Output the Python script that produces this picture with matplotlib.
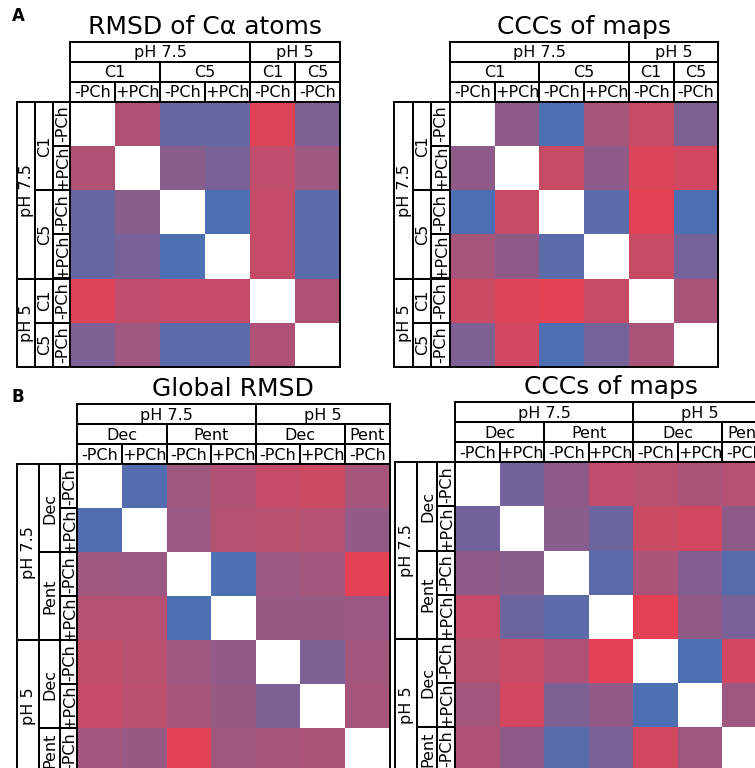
import numpy as np
import matplotlib.pyplot as plt
from matplotlib.colors import LinearSegmentedColormap
from matplotlib.patches import Rectangle

nan = np.nan

# condition labels (pH, construct, PCh state)
conds_a = [("pH 7.5", "C1", "-PCh"), ("pH 7.5", "C1", "+PCh"),
           ("pH 7.5", "C5", "-PCh"), ("pH 7.5", "C5", "+PCh"),
           ("pH 5", "C1", "-PCh"), ("pH 5", "C5", "-PCh")]
conds_b = [("pH 7.5", "Dec", "-PCh"), ("pH 7.5", "Dec", "+PCh"),
           ("pH 7.5", "Pent", "-PCh"), ("pH 7.5", "Pent", "+PCh"),
           ("pH 5", "Dec", "-PCh"), ("pH 5", "Dec", "+PCh"),
           ("pH 5", "Pent", "-PCh")]

# relative values (0 = blue, 1 = red)
rmsd_ca = np.array([
    [nan, .66, .20, .20, .95, .35],
    [.66, nan, .42, .32, .75, .55],
    [.20, .42, nan, .05, .78, .15],
    [.20, .32, .05, nan, .78, .15],
    [.95, .75, .78, .78, nan, .65],
    [.35, .55, .15, .15, .65, nan]])

ccc_a = np.array([
    [nan, .45, .05, .60, .80, .35],
    [.45, nan, .80, .45, .92, .85],
    [.05, .80, nan, .15, .97, .05],
    [.60, .45, .15, nan, .80, .30],
    [.82, .92, .96, .80, nan, .62],
    [.35, .85, .05, .30, .62, nan]])

rmsd_global = np.array([
    [nan, .10, .55, .66, .78, .82, .60],
    [.08, nan, .52, .68, .70, .68, .48],
    [.55, .52, nan, .05, .52, .58, .97],
    [.68, .68, .05, nan, .50, .50, .52],
    [.76, .70, .55, .48, nan, .35, .58],
    [.78, .72, .60, .50, .35, nan, .60],
    [.58, .50, .97, .55, .60, .62, nan]])

ccc_b = np.array([
    [nan, .28, .45, .75, .70, .62, .68],
    [.28, nan, .42, .25, .82, .86, .45],
    [.45, .42, nan, .15, .62, .38, .12],
    [.78, .25, .15, nan, .97, .48, .32],
    [.70, .80, .65, .97, nan, .05, .85],
    [.58, .86, .35, .48, .05, nan, .55],
    [.65, .45, .12, .32, .85, .55, nan]])

cmap = LinearSegmentedColormap.from_list("blue_red", ["#4472b8", "#e84050"])
cmap.set_bad("white")

LW = 1.4
FS = 11.5


def spans(keys):
    """Group consecutive identical keys -> [key, start, stop]"""
    out = []
    for i, k in enumerate(keys):
        if out and out[-1][0] == k:
            out[-1][2] = i + 1
        else:
            out.append([k, i, i + 1])
    return out


def draw_panel(ax, data, conds, title, x0, y0, cw, ch, lab_w, head_h=20):
    n = len(conds)
    xs = x0 + np.arange(n + 1) * cw
    ys = y0 + np.arange(n + 1) * ch
    ax.pcolormesh(xs, ys, np.ma.masked_invalid(data), cmap=cmap,
                  vmin=0, vmax=1)
    ax.add_patch(Rectangle((x0, y0), n * cw, n * ch, fill=False,
                           ec="k", lw=LW))

    for level in range(3):
        keys = [c[:level + 1] for c in conds]
        # column headers
        top = y0 - (3 - level) * head_h
        for key, a, b in spans(keys):
            ax.add_patch(Rectangle((xs[a], top), xs[b] - xs[a], head_h,
                                   fill=False, ec="k", lw=LW))
            ax.text((xs[a] + xs[b]) / 2, top + head_h / 2 + 1, key[-1],
                    ha="center", va="center", fontsize=FS)
        # row labels
        left = x0 - sum(lab_w[level:])
        w = lab_w[level]
        for key, a, b in spans(keys):
            ax.add_patch(Rectangle((left, ys[a]), w, ys[b] - ys[a],
                                   fill=False, ec="k", lw=LW))
            ax.text(left + w / 2 + 1, (ys[a] + ys[b]) / 2, key[-1],
                    ha="center", va="center", rotation=90, fontsize=FS)

    ax.text(x0 + n * cw / 2, y0 - 3 * head_h - 8, title,
            ha="center", va="baseline", fontsize=18)


fig = plt.figure(figsize=(7.55, 7.68), dpi=100)
ax = fig.add_axes([0, 0, 1, 1])
ax.set_xlim(0, 755)
ax.set_ylim(768, 0)
ax.axis("off")

draw_panel(ax, rmsd_ca, conds_a, "RMSD of C\u03b1 atoms",
           70, 101.7, 45, 44.2, [18.3, 17.7, 17.3])
draw_panel(ax, ccc_a, conds_a, "CCCs of maps",
           450, 101.7, 44.7, 44.2, [18.5, 18, 19.5])
draw_panel(ax, rmsd_global, conds_b, "Global RMSD",
           77.3, 464.3, 44.6, 44, [22.3, 20.6, 17.7])
draw_panel(ax, ccc_b, conds_b, "CCCs of maps",
           455, 462.3, 44.55, 44.1, [22, 20, 18.3])

ax.text(18, 16, "A", ha="center", va="center", fontsize=12,
        fontweight="bold")
ax.text(18, 397.5, "B", ha="center", va="center", fontsize=12,
        fontweight="bold")

fig.savefig("out.png", dpi=100)
